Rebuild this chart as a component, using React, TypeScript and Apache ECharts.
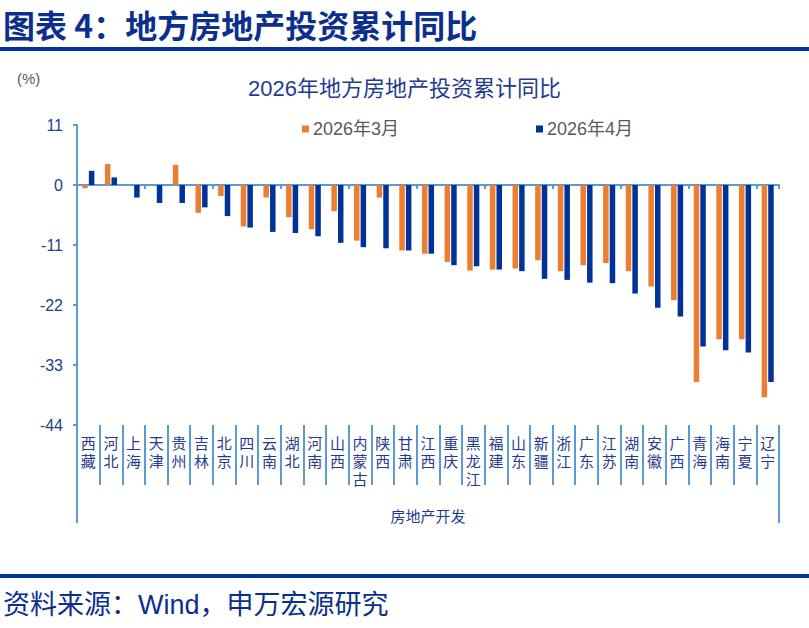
import React, { useEffect, useRef } from "react";
import * as echarts from "echarts";

const provinces = ["西藏","河北","上海","天津","贵州","吉林","北京","四川","云南","湖北","河南","山西","内蒙古","陕西","甘肃","江西","重庆","黑龙江","福建","山东","新疆","浙江","广东","江苏","湖南","安徽","广西","青海","海南","宁夏","辽宁"];
const march = [-0.6, 3.85, 0, 0, 3.7, -5.1, -2.0, -7.6, -2.3, -5.9, -8.1, -4.8, -10.2, -2.3, -12.0, -12.6, -14.1, -15.7, -15.5, -15.3, -13.8, -15.8, -14.7, -14.3, -15.8, -18.6, -21.1, -36.1, -28.3, -28.3, -38.9];
const april = [2.6, 1.4, -2.3, -3.3, -3.3, -4.1, -5.7, -7.8, -8.6, -8.8, -9.4, -10.6, -11.4, -11.6, -12.0, -12.6, -14.7, -14.9, -15.5, -15.8, -17.2, -17.4, -17.9, -18.0, -19.9, -22.5, -24.1, -29.6, -30.3, -30.7, -36.1];
const seriesNames = ["2026年3月", "2026年4月"];
const yMin = -44, yMax = 11, yStep = 11;

const AXIS = "#5B9BD5";
const NAVY = "#0B2F8C";
const LABEL = "#1F3C8F";
const CJK = '"Noto Sans CJK SC", "Liberation Sans", sans-serif';
const MIX = '"Liberation Sans", "Noto Sans CJK SC", sans-serif';

export default function App() {
  const ref = useRef<HTMLDivElement>(null);
  useEffect(() => {
    const chart = echarts.init(ref.current!, null, { renderer: "svg" });
    chart.setOption({
      animation: false,
      backgroundColor: "#ffffff",
      title: [
        { text: "图表 4：地方房地产投资累计同比", left: 3, top: 8, padding: 0,
          textStyle: { fontSize: 32, fontWeight: "bold", color: NAVY, fontFamily: CJK } },
        { text: "2026年地方房地产投资累计同比", left: "center", top: 77, padding: 0,
          textStyle: { fontSize: 22, fontWeight: "normal", color: LABEL, fontFamily: MIX } },
      ],
      legend: [
        { data: [seriesNames[0]], left: 302, top: 120, padding: 0, icon: "rect", itemWidth: 7, itemHeight: 7,
          textStyle: { color: "#595959", fontSize: 18, fontFamily: MIX, padding: [0, 0, 0, -1] } },
        { data: [seriesNames[1]], left: 536, top: 120, padding: 0, icon: "rect", itemWidth: 7, itemHeight: 7,
          textStyle: { color: "#595959", fontSize: 18, fontFamily: MIX, padding: [0, 0, 0, -1] } },
      ],
      grid: { left: 77, right: 30, top: 125, bottom: 203, containLabel: false },
      xAxis: [
        { type: "category", data: provinces, position: "bottom",
          axisLine: { onZero: true, lineStyle: { color: AXIS, width: 2 } },
          axisTick: { show: true, length: 4, lineStyle: { color: AXIS, width: 2 } },
          axisLabel: { show: false }, splitLine: { show: false } },
        { type: "category", data: provinces, position: "bottom",
          axisLine: { show: false, onZero: false },
          axisTick: { show: true, length: 60, lineStyle: { color: AXIS, width: 2 } },
          axisLabel: { show: true, interval: 0, margin: 8, color: LABEL, fontSize: 15, lineHeight: 18.2,
            fontFamily: CJK, verticalAlign: "top",
            formatter: (v: string) => v.split("").join("\n") },
          name: "房地产开发", nameLocation: "middle", nameGap: 83,
          nameTextStyle: { color: LABEL, fontSize: 15, fontFamily: CJK } },
      ],
      yAxis: {
        type: "value", min: yMin, max: yMax, interval: yStep,
        axisLine: { show: true, lineStyle: { color: AXIS, width: 2 } },
        axisTick: { show: true, length: 4, lineStyle: { color: AXIS, width: 2 } },
        axisLabel: { color: LABEL, fontSize: 16, margin: 14, fontFamily: '"Liberation Sans", Arial, sans-serif' },
        splitLine: { show: false },
      },
      series: [
        { name: seriesNames[0], type: "bar", data: march, xAxisIndex: 0, barWidth: 5.5, barGap: "20%",
          itemStyle: { color: "#ED7D31" } },
        { name: seriesNames[1], type: "bar", data: april, xAxisIndex: 0, barWidth: 5.5, barGap: "20%",
          itemStyle: { color: "#003399" } },
      ],
      graphic: [
        { type: "rect", left: 0, top: 47, shape: { width: 809, height: 4 }, style: { fill: "#003399" } },
        { type: "text", left: 17, top: 71, style: { text: "(%)", fill: "#595959", fontSize: 15, fontFamily: '"Liberation Sans", Arial, sans-serif' } },
        { type: "line", shape: { x1: 77, y1: 425, x2: 77, y2: 523 }, style: { stroke: AXIS, lineWidth: 2 } },
        { type: "line", shape: { x1: 779, y1: 425, x2: 779, y2: 523 }, style: { stroke: AXIS, lineWidth: 2 } },
        { type: "rect", left: 0, top: 574, shape: { width: 809, height: 4 }, style: { fill: "#003399" } },
        { type: "text", left: 3, top: 591, style: { text: "资料来源：Wind，申万宏源研究", fill: NAVY, fontSize: 27, fontFamily: MIX } },
      ],
    });
    return () => chart.dispose();
  }, []);
  return <div ref={ref} style={{ position: "fixed", left: 0, top: 0, width: 809, height: 628, background: "#fff" }} />;
}
